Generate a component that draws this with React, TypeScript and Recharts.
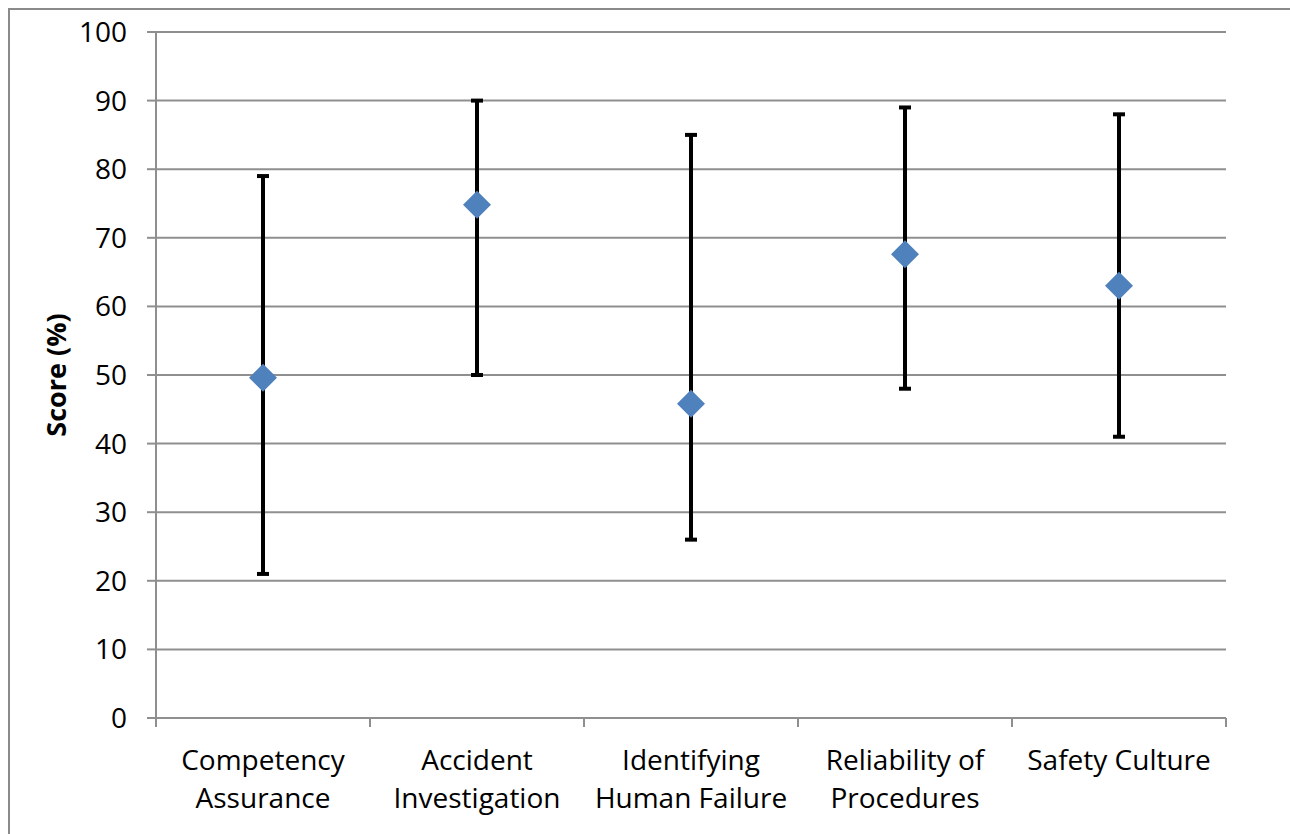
import React from 'react';
import { ComposedChart, Line, XAxis, YAxis, CartesianGrid, ErrorBar } from 'recharts';

const categories = ['Competency Assurance', 'Accident Investigation', 'Identifying Human Failure', 'Reliability of Procedures', 'Safety Culture'];
const labelLines = [['Competency', 'Assurance'], ['Accident', 'Investigation'], ['Identifying', 'Human Failure'], ['Reliability of', 'Procedures'], ['Safety Culture']];
const means = [49.6, 74.8, 45.8, 67.6, 63.0];
const lows = [21, 50, 26, 48, 41];
const highs = [79, 90, 85, 89, 88];
const yTicks = [0, 10, 20, 30, 40, 50, 60, 70, 80, 90, 100];

const data = categories.map((name, i) => ({
  name,
  mean: means[i],
  err: [means[i] - lows[i], highs[i] - means[i]],
}));

const FONT = "'Open Sans', sans-serif";
const GRID = '#8f8f8f';

const Diamond = (props: any) => {
  const { cx, cy } = props;
  if (cx == null || cy == null) return null;
  const r = 14;
  return <path d={`M${cx},${cy - r} L${cx + r},${cy} L${cx},${cy + r} L${cx - r},${cy} Z`} fill="#4F81BD" />;
};

const XTick = (props: any) => {
  const { x, y, index, payload, visibleTicksCount } = props;
  const lines = labelLines[index] || [];
  const half = payload && typeof payload.offset === 'number' ? payload.offset : 0;
  const isLast = index === (visibleTicksCount ?? categories.length) - 1;
  return (
    <g>
      <line x1={x - half} y1={y} x2={x - half} y2={y + 9} stroke={GRID} strokeWidth={2} />
      {isLast && <line x1={x + half} y1={y} x2={x + half} y2={y + 9} stroke={GRID} strokeWidth={2} />}
      <text x={x} y={y} textAnchor="middle" fontFamily={FONT} fontSize={28} fill="#000">
        {lines.map((l, i) => (
          <tspan key={i} x={x} y={y + 52 + i * 38}>{l}</tspan>
        ))}
      </text>
    </g>
  );
};

const YLabel = (props: any) => {
  const { viewBox } = props;
  const cx = viewBox.x + 55;
  const cy = viewBox.y + viewBox.height / 2;
  return (
    <text x={cx} y={cy} transform={`rotate(-90, ${cx}, ${cy})`} textAnchor="middle" dominantBaseline="central" fontFamily={FONT} fontSize={27} fontWeight="bold" fill="#000">
      Score (%)
    </text>
  );
};

export default function App() {
  return (
    <div style={{ position: 'absolute', left: 0, top: 0, width: 1290, height: 834, background: '#fff', overflow: 'hidden' }}>
      <div style={{ position: 'absolute', left: 8, top: 8, width: 1400, height: 1000, borderLeft: '2px solid #8a8a8a', borderTop: '2px solid #8a8a8a' }} />
      <div style={{ position: 'absolute', left: 0, top: 0 }}>
        <ComposedChart width={1290} height={834} data={data} margin={{ top: 32, right: 64, left: 0, bottom: 0 }}>
          <CartesianGrid xAxisId="a" yAxisId="y" vertical={false} stroke={GRID} strokeWidth={2} />
          <XAxis xAxisId="a" dataKey="name" type="category" scale="band" height={116} axisLine={{ stroke: GRID, strokeWidth: 2 }} tickLine={false} tickSize={0} tickMargin={0} interval={0} tick={<XTick />} />
          <YAxis yAxisId="y" type="number" domain={[0, 100]} ticks={yTicks} width={156} tickSize={9} tickMargin={20} axisLine={{ stroke: GRID, strokeWidth: 2 }} tickLine={{ stroke: GRID, strokeWidth: 2 }} tick={{ fontFamily: FONT, fontSize: 28, fill: '#000' }} label={<YLabel />} interval={0} />
          <Line xAxisId="a" yAxisId="y" dataKey="mean" stroke="none" isAnimationActive={false} dot={<Diamond />} activeDot={false}>
            <ErrorBar dataKey="err" direction="y" width={6} stroke="#000" strokeWidth={4} />
          </Line>
        </ComposedChart>
      </div>
    </div>
  );
}
